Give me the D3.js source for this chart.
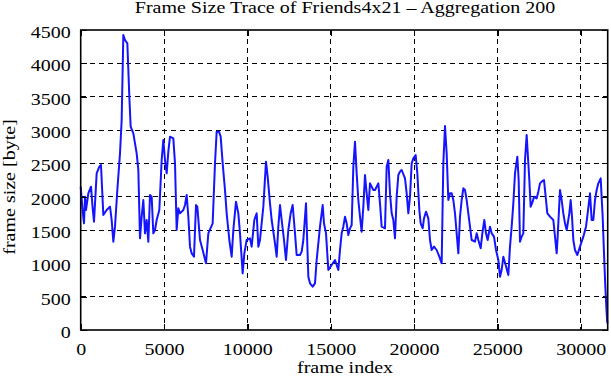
<!DOCTYPE html>
<html>
<head>
<meta charset="utf-8">
<script src="https://cdn.jsdelivr.net/npm/d3@7"></script>
<style>
  html, body { margin: 0; padding: 0; background: #fff; }
  svg text { font-family: "Liberation Serif", "DejaVu Serif", serif; font-size: 16px; fill: #000; }
</style>
</head>
<body>
<svg width="611" height="380"></svg>
<script>
// frame index (x) and aggregated frame size in byte (y)
var frameIndex = [0,118,198,258,318,458,618,718,798,958,1118,1218,1358,1558,1758,1858,1958,2058,2198,2358,
  2458,2558,2658,2798,2918,2998,3158,3358,3458,3558,3658,3758,3858,3958,4058,4158,4258,4358,4458,4558,
  4718,4858,4958,5058,5158,5258,5358,5558,5658,5758,5858,5958,6158,6258,6358,6458,6558,6658,6798,6918,
  6998,7158,7318,7518,7658,7918,8058,8158,8298,8398,8518,8658,8758,8918,9058,9158,9318,9458,9558,9718,
  9818,9958,10158,10258,10418,10558,10658,10758,10958,11118,11218,11358,11458,11658,11758,11858,11958,12058,12198,12318,
  12458,12598,12718,12858,12958,13158,13258,13358,13518,13658,13758,13918,14058,14158,14358,14518,14598,14718,14858,15058,
  15258,15458,15558,15658,15758,15858,15958,16058,16158,16258,16358,16458,16558,16658,16758,16858,16958,17058,17158,17258,
  17358,17558,17658,17858,17958,18058,18258,18358,18458,18558,18658,18758,18858,18958,19058,19158,19258,19458,19558,19658,
  19758,19858,19958,20098,20198,20318,20398,20518,20598,20718,20858,20958,21058,21198,21358,21518,21658,21758,21858,21958,
  22058,22158,22258,22358,22458,22558,22658,22758,22858,22958,23058,23158,23258,23358,23458,23658,23758,23858,23998,24098,
  24218,24318,24418,24558,24658,24798,24918,25058,25158,25258,25358,25498,25658,25758,25858,25958,26058,26198,26278,26358,
  26458,26558,26658,26758,26858,26918,26998,27118,27198,27358,27458,27558,27658,27798,27918,27998,28158,28358,28458,28558,
  28618,28758,28858,28958,29058,29158,29318,29398,29478,29558,29658,29798,29958,30158,30318,30418,30558,30658,30758,30858,
  30958,31058,31198,31318,31398,31478,31558,31598];
var frameSize = [2150,1775,1600,2000,1800,2050,2150,1825,1625,2350,2450,2475,1725,1800,1850,1650,1325,1550,2100,2650,
  3150,4425,4350,4300,3500,3050,2950,2650,2400,1375,1700,1950,1450,1650,1325,2025,2000,1450,1500,1650,
  1800,2550,2850,2550,2350,2675,2900,2875,2500,1500,1825,1750,1800,1875,2025,1700,1250,1150,1100,1875,
  1850,1350,1200,1000,1450,1600,2500,2975,2975,2900,2500,2100,1750,1350,1100,1500,1925,1750,1450,850,
  1150,1350,1375,1250,1650,1750,1250,1350,1850,2525,2300,1900,1650,1300,1100,1550,1875,1650,1350,1050,
  1500,1750,1875,1450,1125,1125,1175,1350,1900,800,700,650,700,1050,1550,1875,1600,1450,900,975,
  1050,900,1200,1450,1550,1700,1600,1425,1525,1575,2450,2825,2350,1950,1700,1475,1850,2325,2050,1800,
  2200,2100,2100,2200,1900,1550,1525,2450,2550,2050,1750,1650,1375,2000,2325,2375,2400,2275,2050,1750,
  2000,2500,2575,2625,2350,1800,1600,1525,1675,1775,1675,1350,1200,1250,1200,1100,1000,2500,3060,2650,
  1950,2050,2050,1950,1750,1450,1150,1700,1950,2125,2100,1950,1750,1550,1350,1325,1450,1350,1225,1450,
  1650,1450,1350,1550,1450,1400,1200,1050,800,900,1100,975,825,1250,1550,1900,2350,2600,2250,1325,
  1400,1450,2550,2925,2500,2250,1850,1925,2000,1975,2075,2200,2225,2250,1950,1750,1700,1650,1400,1150,
  1400,2100,1950,1750,1600,1500,1750,1950,1700,1350,1200,1125,1250,1400,1550,1750,2050,1650,1650,1950,
  2100,2200,2275,1700,1150,650,250,100];

var xTicks = [0, 5000, 10000, 15000, 20000, 25000, 30000];
var yTicks = [0, 500, 1000, 1500, 2000, 2500, 3000, 3500, 4000, 4500];

var svg = d3.select("svg"),
    pLeft = 80.7, pRight = 607.7, pTop = 30, pBottom = 330,
    sx = 1.25; // horizontal stretch of the lettering

var x = d3.scaleLinear().domain([0, 31620]).range([pLeft, pRight]);
var y = d3.scaleLinear().domain([0, 4500]).range([pBottom, pTop]);

// dashed grid
var grid = svg.append("g")
    .attr("stroke", "#000")
    .attr("stroke-width", 1)
    .attr("stroke-dasharray", "5,4")
    .attr("shape-rendering", "crispEdges");
grid.selectAll(".gx")
  .data(xTicks.filter(function(d) { return d > 0; }))
  .enter().append("line")
    .attr("x1", function(d) { return x(d); })
    .attr("x2", function(d) { return x(d); })
    .attr("y1", pTop).attr("y2", pBottom);
grid.selectAll(".gy")
  .data(yTicks.filter(function(d) { return d > 0 && d < 4500; }))
  .enter().append("line")
    .attr("y1", function(d) { return y(d); })
    .attr("y2", function(d) { return y(d); })
    .attr("x1", pLeft).attr("x2", pRight);

// the trace
var line = d3.line()
    .x(function(d, i) { return x(frameIndex[i]); })
    .y(function(d) { return y(d); });

svg.append("path")
    .datum(frameSize)
    .attr("fill", "none")
    .attr("stroke", "#1414ff")
    .attr("stroke-width", 2)
    .attr("stroke-linejoin", "round")
    .attr("d", line);

// axes with inward ticks
function styleAxis(g) {
  g.select(".domain").remove();
  g.selectAll(".tick line").attr("stroke", "#000").attr("stroke-width", 1.3).attr("shape-rendering", "crispEdges");
}

svg.append("g")
    .attr("transform", "translate(" + pLeft + ",0)")
    .call(d3.axisLeft(y).tickValues(yTicks).tickFormat(d3.format("d")).tickSizeInner(-6).tickSizeOuter(0))
    .call(styleAxis)
    .call(function(g) {
      g.attr("font-family", null).attr("font-size", null);
      g.selectAll(".tick text")
        .attr("x", null).attr("dy", null).attr("fill", null)
        .attr("text-anchor", "end")
        .attr("transform", "translate(-10,7.5) scale(" + sx + ",1)");
    });

svg.append("g")
    .attr("transform", "translate(" + pRight + ",0)")
    .call(d3.axisRight(y).tickValues(yTicks).tickSizeInner(-6).tickSizeOuter(0).tickFormat(""))
    .call(styleAxis);

svg.append("g")
    .attr("transform", "translate(0," + pBottom + ")")
    .call(d3.axisBottom(x).tickValues(xTicks).tickFormat(d3.format("d")).tickSizeInner(-6).tickSizeOuter(0))
    .call(styleAxis)
    .call(function(g) {
      g.attr("font-family", null).attr("font-size", null);
      g.selectAll(".tick text")
        .attr("y", null).attr("dy", null).attr("fill", null)
        .attr("text-anchor", "middle")
        .attr("transform", "translate(0,25) scale(" + sx + ",1)");
    });

svg.append("g")
    .attr("transform", "translate(0," + pTop + ")")
    .call(d3.axisTop(x).tickValues(xTicks).tickSizeInner(-6).tickSizeOuter(0).tickFormat(""))
    .call(styleAxis);

// frame
svg.append("rect")
    .attr("x", pLeft).attr("y", pTop)
    .attr("width", pRight - pLeft).attr("height", pBottom - pTop)
    .attr("fill", "none")
    .attr("stroke", "#000")
    .attr("stroke-width", 1.6);

// titles
svg.append("text")
    .attr("text-anchor", "middle")
    .attr("transform", "translate(345,13) scale(" + sx + ",1)")
    .text("Frame Size Trace of Friends4x21 \u2013 Aggregation 200");

svg.append("text")
    .attr("text-anchor", "middle")
    .attr("transform", "translate(345,373) scale(" + sx + ",1)")
    .text("frame index");

svg.append("text")
    .attr("text-anchor", "middle")
    .attr("transform", "translate(15,187) rotate(-90) scale(" + sx + ",1)")
    .text("frame size [byte]");
</script>
</body>
</html>
